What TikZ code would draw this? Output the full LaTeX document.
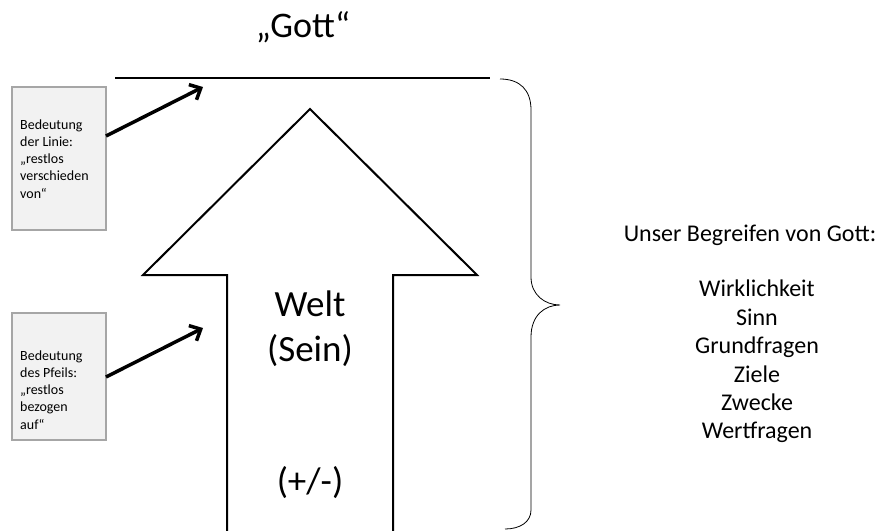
\documentclass[tikz,border=0pt]{standalone}
\usepackage{fontspec}
\setmainfont{Carlito}
\usetikzlibrary{arrows.meta}
\definecolor{boxfill}{RGB}{242,242,242}
\definecolor{boxline}{RGB}{166,166,166}
\begin{document}
\begin{tikzpicture}[x=1pt,y=-1pt,
 graybox/.style={draw=boxline, fill=boxfill, line width=1.5pt, minimum width=94pt, inner sep=0pt},
 boxtxt/.style={font=\fontsize{14}{17.2}\selectfont, align=left, inner sep=0pt, anchor=north west},
 ptr/.style={line width=3.5pt, -{Straight Barb[length=9pt,width=17pt]}},
 bigtxt/.style={font=\fontsize{37}{45}\selectfont, inner sep=0pt, anchor=base},
 midtxt/.style={font=\fontsize{24}{28.4}\selectfont, inner sep=0pt, align=center},
 outline/.style={line width=2pt, line join=miter}]
\useasboundingbox (0,0) rectangle (877,530);

% big arrow (Welt)
\draw[outline, fill=white] (227,532) -- (227,275) -- (143,275) -- (310,109) -- (477,275) -- (393,275) -- (393,532);

% line (Gott)
\coordinate (lineL) at (115,78);
\coordinate (lineR) at (490,78);
\draw[line width=2pt] (lineL) -- (lineR);

\node[bigtxt, font=\fontsize{36}{45}\selectfont] (gott) at (303,37) {„Gott“};
\node[bigtxt] (welt) at (310,316) {Welt};
\node[bigtxt] (sein) at (310,361) {(Sein)};
\node[bigtxt] (pm) at (310,493) {(+/-)};

% boxes
\node[graybox, minimum height=143pt] (b1) at (59,158.5) {};
\node[boxtxt] (t1) at (20,119.3) {Bedeutung\\der Linie:\\„restlos\\verschieden\\von“};
\node[graybox, minimum height=127pt] (b2) at (59,376.5) {};
\node[boxtxt] (t2) at (20,350.3) {Bedeutung\\des Pfeils:\\„restlos\\bezogen\\auf“};

\coordinate (a1s) at (106,136);
\coordinate (a1e) at (203,87);
\coordinate (a2s) at (106,377);
\coordinate (a2e) at (203,328);
\draw[ptr] (a1s) -- (a1e);
\draw[ptr] (a2s) -- (a2e);

% brace
\draw[line width=0.8pt] (500,79) .. controls (520,79) and (531,90) .. (531,110) -- (531,277)
  .. controls (531,295) and (545,305) .. (560,305)
  .. controls (545,305) and (531,315) .. (531,337) -- (531,510)
  .. controls (531,522) and (520,529) .. (505,529);

% right text
\node[midtxt, anchor=base] (unser) at (750,241) {Unser Begreifen von Gott:};
\node[midtxt, anchor=north] (list) at (757,280) {Wirklichkeit\\Sinn\\Grundfragen\\Ziele\\Zwecke\\Wertfragen};
\end{tikzpicture}
\end{document}
